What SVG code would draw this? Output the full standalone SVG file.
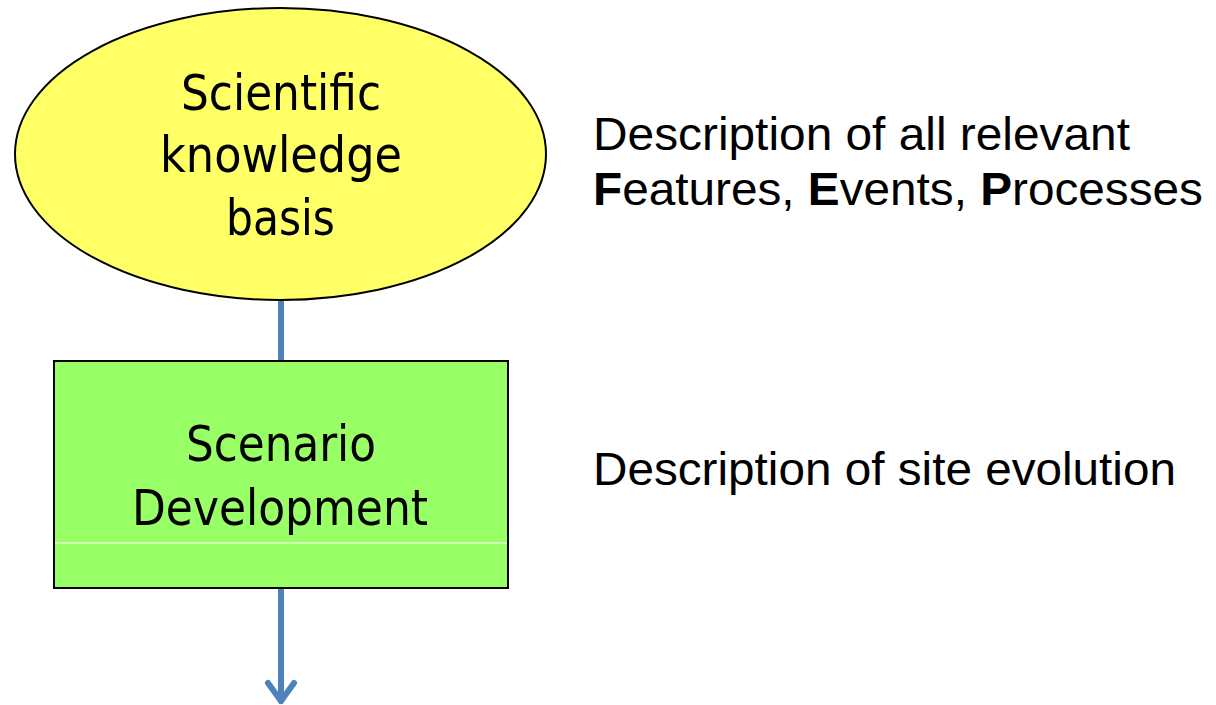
<svg xmlns="http://www.w3.org/2000/svg" width="1216" height="705" viewBox="0 0 1216 705">
  <style>
    .node-text { font-family: "DejaVu Sans Condensed", "Liberation Sans Narrow", "Liberation Sans", sans-serif; font-size: 50px; fill: #000; text-anchor: middle; }
    .note { font-family: "Liberation Sans", Arial, sans-serif; font-size: 47px; fill: #000; }
    .flow { stroke: #4f81bd; stroke-width: 6; fill: none; stroke-linecap: round; stroke-linejoin: round; }
  </style>
  <rect width="1216" height="705" fill="#fff"/>

  <!-- connectors -->
  <g id="connectors">
    <line class="flow" x1="281" y1="300" x2="281" y2="361" stroke-linecap="butt"/>
    <path class="flow" d="M281,588 L281,701"/>
    <path class="flow" d="M268,683 L281,701 L294,683"/>
  </g>

  <!-- knowledge basis -->
  <g id="knowledge">
    <ellipse cx="280.5" cy="154" rx="265.5" ry="146" fill="#ffff66" stroke="#000" stroke-width="2"/>
    <text class="node-text" x="281" y="110" textLength="200" lengthAdjust="spacingAndGlyphs">Scientific</text>
    <text class="node-text" x="281" y="172" textLength="242" lengthAdjust="spacingAndGlyphs">knowledge</text>
    <text class="node-text" x="280.5" y="235" textLength="109" lengthAdjust="spacingAndGlyphs">basis</text>
  </g>

  <!-- scenario development -->
  <g id="scenario">
    <rect x="54" y="361" width="454" height="227" fill="#99ff66" stroke="#000" stroke-width="2"/>
    <line x1="55" y1="543" x2="507" y2="543" stroke="#fff" stroke-width="1"/>
    <text class="node-text" x="281" y="461" textLength="190" lengthAdjust="spacingAndGlyphs">Scenario</text>
    <text class="node-text" x="280" y="525" textLength="296" lengthAdjust="spacingAndGlyphs">Development</text>
  </g>

  <!-- descriptions -->
  <g id="fep-note">
    <text class="note" x="593" y="150" textLength="537" lengthAdjust="spacingAndGlyphs">Description of all relevant</text>
    <text class="note" x="593" y="205" textLength="610" lengthAdjust="spacingAndGlyphs"><tspan font-weight="bold">F</tspan>eatures, <tspan font-weight="bold">E</tspan>vents, <tspan font-weight="bold">P</tspan>rocesses</text>
  </g>
  <g id="evolution-note">
    <text class="note" x="593" y="485" textLength="583" lengthAdjust="spacingAndGlyphs">Description of site evolution</text>
  </g>
</svg>
